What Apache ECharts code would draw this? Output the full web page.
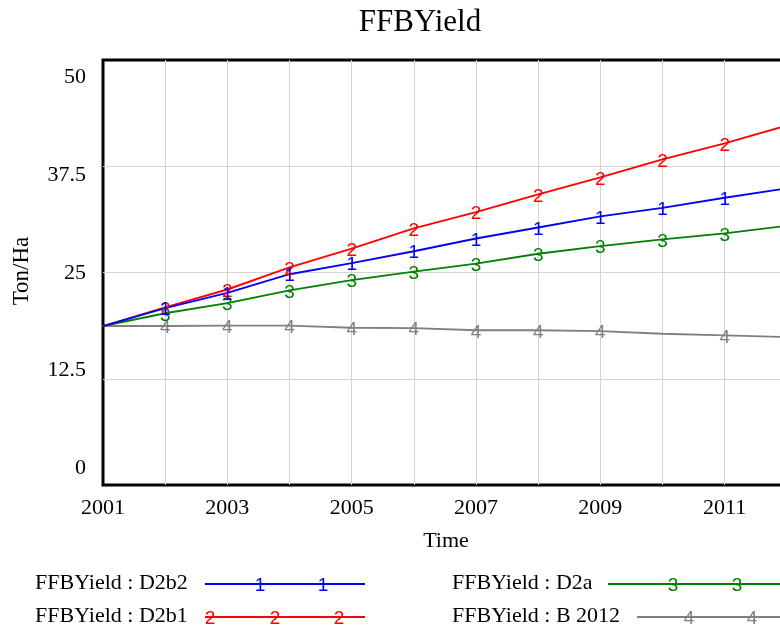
<!DOCTYPE html>
<html>
<head>
<meta charset="utf-8">
<script src="https://cdn.jsdelivr.net/npm/echarts@6/dist/echarts.min.js"></script>
<style>
  html, body { margin: 0; padding: 0; background: #fff; }
  #chart { width: 780px; height: 631px; }
</style>
</head>
<body>
<div id="chart"></div>
<script>
// Simulated FFB yield per scenario, one value per year
const years = [2001, 2002, 2003, 2004, 2005, 2006, 2007, 2008, 2009, 2010, 2011, 2012];
const yieldD2b2 = [18.7, 20.8, 22.6, 24.8, 26.1, 27.5, 29.0, 30.3, 31.6, 32.6, 33.8, 34.9];
const yieldD2b1 = [18.7, 20.9, 23.0, 25.6, 27.8, 30.2, 32.1, 34.2, 36.2, 38.3, 40.2, 42.3];
const yieldD2a  = [18.7, 20.2, 21.4, 22.9, 24.1, 25.1, 26.05, 27.2, 28.1, 28.9, 29.6, 30.5];
const yieldB2012 = [18.7, 18.7, 18.75, 18.75, 18.5, 18.45, 18.2, 18.2, 18.1, 17.8, 17.6, 17.4];

// Years that carry the numbered run marker on each line
const marksD2b2 = [2002, 2003, 2004, 2005, 2006, 2007, 2008, 2009, 2010, 2011];
const marksD2b1 = [2002, 2003, 2004, 2005, 2006, 2007, 2008, 2009, 2010, 2011];
const marksD2a  = [2002, 2003, 2004, 2005, 2006, 2007, 2008, 2009, 2010, 2011];
const marksB2012 = [2002, 2003, 2004, 2005, 2006, 2007, 2008, 2009, 2011];

const yTicks = [0, 12.5, 25, 37.5, 50];
const xTickLabels = [2001, 2003, 2005, 2007, 2009, 2011, 2013];

const runs = [
  { name: 'FFBYield : D2b2', tag: '1', color: '#0000ff', values: yieldD2b2, marks: marksD2b2 },
  { name: 'FFBYield : D2b1', tag: '2', color: '#ff0000', values: yieldD2b1, marks: marksD2b1 },
  { name: 'FFBYield : D2a', tag: '3', color: '#008000', values: yieldD2a, marks: marksD2a },
  { name: 'FFBYield : B 2012', tag: '4', color: '#808080', values: yieldB2012, marks: marksB2012 }
];

const SERIF = '"Liberation Serif", "Times New Roman", serif';
const SANS = '"Liberation Sans", Arial, sans-serif';

const series = runs.slice().reverse().map(run => ({
  type: 'line',
  name: run.name,
  xAxisIndex: 0,
  yAxisIndex: 0,
  symbol: 'circle',
  symbolSize: 1,
  showSymbol: true,
  silent: true,
  lineStyle: { color: run.color, width: 1.9 },
  itemStyle: { color: run.color },
  label: {
    show: false,
    position: 'inside',
    offset: [0, 2],
    formatter: run.tag,
    color: run.color,
    fontFamily: SANS,
    fontSize: 19
  },
  emphasis: { disabled: true },
  data: years.map((yr, i) => ({
    value: [yr, run.values[i]],
    label: { show: run.marks.includes(yr) }
  }))
}));

// Legend: name on the left, sample line with its numbered markers on the right
const legendRows = [
  { run: runs[0], tx: 35,  ty: 585, x1: 205, x2: 365, y: 584, tags: [260, 323] },
  { run: runs[1], tx: 35,  ty: 618, x1: 205, x2: 365, y: 617, tags: [210, 275, 339] },
  { run: runs[2], tx: 452, ty: 585, x1: 608, x2: 790, y: 584, tags: [673, 737] },
  { run: runs[3], tx: 452, ty: 618, x1: 637, x2: 790, y: 617, tags: [689, 752] }
];
const graphics = [];
legendRows.forEach(r => {
  graphics.push({
    type: 'text', left: r.tx, top: r.ty - 13, silent: true,
    style: { text: r.run.name, fill: '#000', font: '22px ' + SERIF }
  });
  graphics.push({
    type: 'line', silent: true,
    shape: { x1: r.x1, y1: r.y, x2: r.x2, y2: r.y },
    style: { stroke: r.run.color, lineWidth: 1.9 }
  });
  r.tags.forEach(x => graphics.push({
    type: 'text', silent: true, x: x, y: r.y + 2,
    style: { text: r.run.tag, fill: r.run.color, font: '19px ' + SANS, align: 'center', verticalAlign: 'middle' }
  }));
});
graphics.push({
  type: 'text', silent: true, x: 446, y: 541,
  style: { text: 'Time', fill: '#000', font: '22px ' + SERIF, align: 'center', verticalAlign: 'middle' }
});
graphics.push({
  type: 'text', silent: true, x: 22, y: 271, rotation: Math.PI / 2,
  style: { text: 'Ton/Ha', fill: '#000', font: '23px ' + SERIF, align: 'center', verticalAlign: 'middle' }
});

const option = {
  animation: false,
  backgroundColor: '#fff',
  title: {
    text: 'FFBYield',
    left: 415,
    top: 2,
    textAlign: 'center',
    textStyle: { fontFamily: SERIF, fontSize: 31, fontWeight: 'normal', color: '#000' }
  },
  grid: {
    left: 103, top: 60, width: 746, height: 425,
    outerBoundsMode: 'none',
    containLabel: false,
    show: true, borderColor: '#000', borderWidth: 3, backgroundColor: 'transparent'
  },
  xAxis: {
    type: 'value',
    min: 2001, max: 2013, interval: 1,
    axisLine: { show: false },
    axisTick: { show: false },
    splitLine: { show: true, showMinLine: false, showMaxLine: false, lineStyle: { color: '#d4d4d4', width: 1 } },
    axisLabel: {
      margin: 12,
      color: '#000',
      fontFamily: SERIF,
      fontSize: 22,
      customValues: xTickLabels,
      formatter: v => String(v)
    }
  },
  yAxis: [
    {
      type: 'value',
      min: 0, max: 50, interval: 12.5,
      axisLine: { show: false },
      axisTick: { show: false },
      axisLabel: { show: false },
      splitLine: { show: true, showMinLine: false, showMaxLine: false, lineStyle: { color: '#d4d4d4', width: 1 } }
    },
    {
      // label-only axis: tick values spread evenly inside the frame
      type: 'value',
      position: 'left',
      min: -2.17, max: 52.24,
      axisLine: { show: false },
      axisTick: { show: false },
      splitLine: { show: false },
      axisLabel: {
        margin: 17,
        color: '#000',
        fontFamily: SERIF,
        fontSize: 22,
        customValues: yTicks,
        formatter: v => String(v)
      }
    }
  ],
  series: series,
  graphic: graphics
};

const chart = echarts.init(document.getElementById('chart'), null, { renderer: 'canvas' });
chart.setOption(option);
</script>
</body>
</html>
